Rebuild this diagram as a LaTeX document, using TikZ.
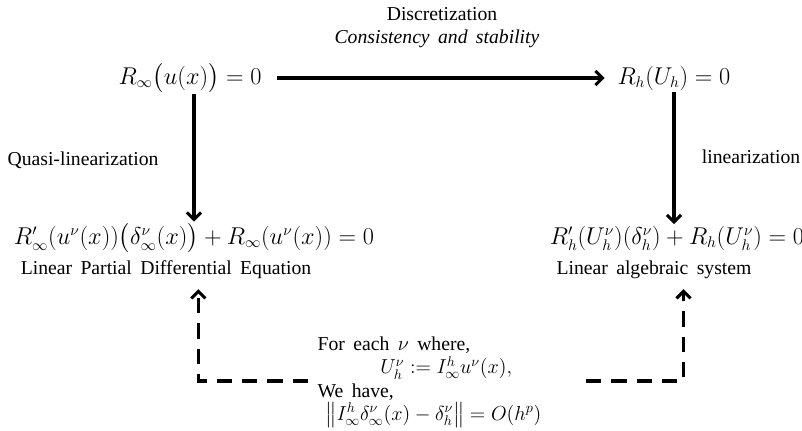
\documentclass[tikz,border=0pt]{standalone}
\usepackage{amsmath}
\usepackage{fontspec}
\setmainfont[WordSpace=1.7]{Liberation Serif}
\usetikzlibrary{arrows.meta}

\begin{document}
\begin{tikzpicture}[
			x=0.025cm,
			y=-0.025cm,
			>={Straight Barb[length=5pt,width=10pt,line width=2.2pt]},
			font=\fontsize{14}{16}\selectfont,
			eqn/.style={inner sep=1pt, font=\fontsize{16}{18}\selectfont},
			smalleqn/.style={inner sep=0pt, font=\fontsize{14.5}{16}\selectfont},
			lbl/.style={inner sep=1pt},
			solidarrow/.style={->, line width=2.8pt},
			dasharrow/.style={->, line width=2.2pt, dash pattern=on 11pt off 7pt}
		]
			\useasboundingbox (0,0) rectangle (802,430);

			\node[lbl] (disc) at (442,14) {Discretization};
			\node[lbl, font=\fontsize{14}{16}\itshape] (cons) at (437,39) {Consistency and stability};

			\node[eqn] (rinf) at (190,78) {$R_\infty\bigl(u(x)\bigr) = 0$};
			\node[eqn] (rh)   at (674,78) {$R_h(U_h) = 0$};

			\node[lbl] (quasi) at (83,160) {Quasi-linearization};
			\node[lbl] (lin)   at (751,157) {linearization};

			\node[eqn] (lpdeq) at (194,238) {$R'_\infty(u^\nu(x))\bigl(\delta^\nu_\infty(x)\bigr) + R_\infty(u^\nu(x)) = 0$};
			\node[eqn] (laseq) at (677,238) {$R'_h(U^\nu_h)(\delta^\nu_h) + R_h(U^\nu_h) = 0$};

			\node[lbl] (lpde) at (166,270) {Linear Partial Differential Equation};
			\node[lbl] (las)  at (654,270) {Linear algebraic system};

			% relation between the two linearized problems
			\node[lbl, anchor=west] (each) at (316,345) {For each $\nu$ where,};
			\node[smalleqn, anchor=west] (interp) at (380,368) {$U^\nu_h \mathrel{\mathop:}= I^h_\infty u^\nu(x),$};
			\node[lbl, anchor=west] (have) at (316,392) {We have,};
			\node[smalleqn, anchor=west] (norm) at (325,415) {$\bigl\lVert I^h_\infty\delta^\nu_\infty(x) - \delta^\nu_h\bigr\rVert = O(h^p)$};

			\coordinate (dl) at (308,381);
			\coordinate (dr) at (586,381);

			\draw[solidarrow] (rinf.east) ++(14,0) -- ([xshift=-8pt]rh.west);
			\draw[solidarrow] (lpdeq.north |- rinf.south) -- (lpdeq.north);
			\draw[solidarrow] (rh.south) -- (rh.south |- laseq.north);

			\draw[dasharrow] (dl) -| ([xshift=23pt,yshift=-6pt]lpde.south);
			\draw[dasharrow] (dr) -| ([xshift=21pt,yshift=-6pt]las.south);
		\end{tikzpicture}
\end{document}
